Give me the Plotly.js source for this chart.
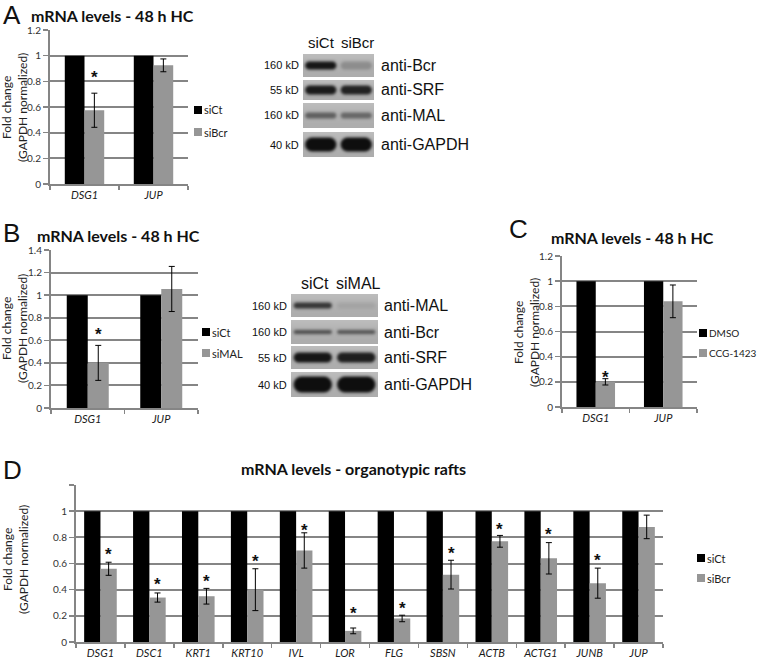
<!DOCTYPE html>
<html><head><meta charset="utf-8">
<script src="https://cdn.plot.ly/plotly-3.0.1.min.js"></script>
<style>html,body{margin:0;padding:0;background:#fff}#chart{width:760px;height:671px}</style>
</head><body><div id="chart"></div>
<script>
// ---------------- data ----------------
const catsAB = ['DSG1', 'JUP'];

const aSeries = ['siCt', 'siBcr'];
const aCt = [1, 1];
const aBcr = [0.575, 0.925];
const aBcrErr = [0.133, 0.05];
const aStar = [0.86, null];

const bSeries = ['siCt', 'siMAL'];
const bCt = [1, 1];
const bMAL = [0.40, 1.055];
const bMALErr = [0.155, 0.20];
const bStar = [0.69, null];

const cSeries = ['DMSO', 'CCG-1423'];
const cDMSO = [1, 1];
const cCCG = [0.20, 0.84];
const cCCGErr = [0.025, 0.13];
const cStar = [0.27, null];

const dCats = ['DSG1','DSC1','KRT1','KRT10','IVL','LOR','FLG','SBSN','ACTB','ACTG1','JUNB','JUP'];
const dSeries = ['siCt', 'siBcr'];
const dCt = [1,1,1,1,1,1,1,1,1,1,1,1];
const dBcr = [0.56,0.34,0.35,0.40,0.70,0.085,0.18,0.515,0.77,0.64,0.45,0.88];
const dBcrErr = [0.05,0.035,0.06,0.16,0.135,0.022,0.025,0.11,0.045,0.12,0.115,0.09];
const dStar = [0.70,0.47,0.495,0.645,0.88,0.25,0.29,0.71,0.89,0.855,0.65,null];

const titleHC = 'mRNA levels - 48 h HC';
const titleRafts = 'mRNA levels - organotypic rafts';
const yTitle = 'Fold change<br>(GAPDH normalized)';

// western blots (band intensity per lane, 0..1)
const blotALanes = ['siCt', 'siBcr'];
const blotARows = ['anti-Bcr', 'anti-SRF', 'anti-MAL', 'anti-GAPDH'];
const blotAkD = ['160 kD', '55 kD', '160 kD', '40 kD'];
const blotAInt = [[0.95, 0.22], [0.92, 0.88], [0.5, 0.45], [1, 1]];

const blotBLanes = ['siCt', 'siMAL'];
const blotBRows = ['anti-MAL', 'anti-Bcr', 'anti-SRF', 'anti-GAPDH'];
const blotBkD = ['160 kD', '160 kD', '55 kD', '40 kD'];
const blotBInt = [[0.75, 0.08], [0.62, 0.58], [0.95, 0.9], [1, 1]];

// ---------------- layout geometry ----------------
const W = 760, H = 671;
const fx = v => v / W, fy = v => 1 - v / H;
const GRID = '#858585', GRAY = '#969696';
const FONT = 'Lato, "Open Sans", sans-serif';
const ARIAL = '"Liberation Sans", Arial, sans-serif';

const panels = [
  {id:'', cats:catsAB, s1:aCt, s2:aBcr, err:aBcrErr, star:aStar, names:aSeries, gap:1.5,
   x0:50, x1:188, y0:30, y1:184, ymax:1.2, labels:['0','0.2','0.4','0.6','0.8','1','1.2'],
   title:titleHC, tx:113, ty:15, letter:'A', lx:1, ly:15, ytx:14, yty:108, legx:194, legy:[110,132], legf:11},
  {id:'2', cats:catsAB, s1:bCt, s2:bMAL, err:bMALErr, star:bStar, names:bSeries, gap:1.5,
   x0:51, x1:198, y0:250, y1:408, ymax:1.4, labels:['0','0.2','0.4','0.6','0.8','1','1.2','1.4'],
   title:titleHC, tx:119, ty:235, letter:'B', lx:1, ly:233, ytx:14, yty:329, legx:202, legy:[332,353], legf:11},
  {id:'3', cats:catsAB, s1:cDMSO, s2:cCCG, err:cCCGErr, star:cStar, names:cSeries, gap:1.5,
   x0:562, x1:697, y0:256, y1:407, ymax:1.2, labels:['0','0.2','0.4','0.6','0.8','1','1.2'],
   title:titleHC, tx:632, ty:237, letter:'C', lx:507, ly:229, ytx:526, yty:333, legx:699, legy:[333,353], legf:10},
  {id:'4', cats:dCats, s1:dCt, s2:dBcr, err:dBcrErr, star:dStar, names:dSeries, gap:1.0,
   x0:76, x1:663, y0:485, y1:642, ymax:1.2, labels:['0','0.2','0.4','0.6','0.8','1',''],
   title:titleRafts, tx:353, ty:468, letter:'D', lx:1, ly:470, ytx:15, yty:560, legx:697, legy:[558,578], legf:11}
];

const data = [];
const layout = {
  width: W, height: H, margin: {l:0, r:0, t:0, b:0},
  paper_bgcolor: '#fff', plot_bgcolor: 'rgba(0,0,0,0)',
  showlegend: false, barmode: 'overlay',
  annotations: [], shapes: [], images: []
};

panels.forEach(p => {
  const xa = 'x' + p.id, ya = 'y' + p.id;
  const w = 1 / (2 + p.gap);
  data.push({type:'bar', x:p.cats, y:p.s1, name:p.names[0], xaxis:xa, yaxis:ya,
    width:w, offset:-w, marker:{color:'#000', line:{width:0}}, hoverinfo:'skip'});
  data.push({type:'bar', x:p.cats, y:p.s2, name:p.names[1], xaxis:xa, yaxis:ya,
    width:w, offset:0, marker:{color:GRAY, line:{width:0}}, hoverinfo:'skip',
    error_y:{type:'data', array:p.err, visible:true, color:'#000', thickness:1, width:3}});

  const tickvals = p.labels.map((_, i) => +(i * 0.2).toFixed(1));
  layout['xaxis' + p.id] = {
    domain:[fx(p.x0), fx(p.x1)], anchor:ya, type:'category', range:[-0.5, p.cats.length - 0.5],
    showline:true, linecolor:GRID, linewidth:2, ticks:'outside', tickson:'boundaries',
    ticklen:4, tickcolor:GRID, tickwidth:1.5, showgrid:false, zeroline:false, fixedrange:true,
    tickfont:{family:FONT, size:11, color:'#1a1a1a', style:'italic'}
  };
  layout['yaxis' + p.id] = {
    domain:[fy(p.y1), fy(p.y0)], anchor:xa, range:[0, p.ymax + 0.0005],
    tickvals:tickvals, ticktext:p.labels,
    showline:true, linecolor:GRID, linewidth:2, ticks:'outside', ticklen:5, tickcolor:GRID, tickwidth:1.5,
    showgrid:true, gridcolor:GRID, gridwidth:2, zeroline:false, fixedrange:true,
    tickfont:{family:FONT, size:10, color:'#333'}
  };

  // asterisks over the grey bars
  p.star.forEach((s, i) => {
    if (s === null) return;
    layout.annotations.push({xref:xa, yref:ya, x:i + w / 2, y:s, text:'<b>*</b>', showarrow:false,
      yshift:-4, font:{family:ARIAL, size:17, color:'#111'}});
  });
  // titles, panel letters, y titles
  layout.annotations.push({xref:'paper', yref:'paper', x:fx(p.tx), y:fy(p.ty), text:'<b>' + p.title + '</b>',
    showarrow:false, xanchor:'center', yanchor:'middle', font:{family:FONT, size:16, color:'#111'}});
  layout.annotations.push({xref:'paper', yref:'paper', x:fx(p.lx), y:fy(p.ly), text:p.letter,
    showarrow:false, xanchor:'left', yanchor:'middle', font:{family:ARIAL, size:26, color:'#111'}});
  layout.annotations.push({xref:'paper', yref:'paper', x:fx(p.ytx), y:fy(p.yty), text:yTitle, textangle:-90,
    showarrow:false, xanchor:'center', yanchor:'middle', font:{family:FONT, size:12, color:'#222'}});
  // legend
  [['#000', p.names[0]], [GRAY, p.names[1]]].forEach((it, k) => {
    const yc = p.legy[k];
    layout.shapes.push({type:'rect', xref:'paper', yref:'paper', x0:fx(p.legx), x1:fx(p.legx + 8),
      y0:fy(yc + 4), y1:fy(yc - 4), fillcolor:it[0], line:{width:0}});
    layout.annotations.push({xref:'paper', yref:'paper', x:fx(p.legx + 9), y:fy(yc), text:it[1],
      showarrow:false, xanchor:'left', yanchor:'middle', borderpad:0,
      font:{family:FONT, size:p.legf, color:'#222'}});
  });
});

// ---------------- western blot strips ----------------
function strip(w, h, ints, thick) {
  const s = 4, c = document.createElement('canvas');
  c.width = Math.round(w * s); c.height = Math.round(h * s);
  const g = c.getContext('2d');
  g.fillStyle = '#b6b6b6'; g.fillRect(0, 0, c.width, c.height);
  const gr = g.createLinearGradient(0, 0, 0, c.height);
  gr.addColorStop(0, 'rgba(255,255,255,0.10)'); gr.addColorStop(1, 'rgba(0,0,0,0.05)');
  g.fillStyle = gr; g.fillRect(0, 0, c.width, c.height);
  g.filter = 'blur(' + (1.5 * s) + 'px)';
  ints.forEach((v, i) => {
    const lw = w / 2, cx = (i + 0.5) * lw, bw = lw * 0.88;
    g.fillStyle = 'rgba(14,14,14,' + v + ')';
    g.beginPath();
    g.roundRect((cx - bw / 2) * s, (h / 2 - thick / 2) * s, bw * s, thick * s, thick / 2 * s);
    g.fill();
  });
  return c.toDataURL('image/png');
}

function addBlot(b, lanes, rows, kd, ints) {
  rows.forEach((name, r) => {
    const [r0, r1] = b.rows[r];
    layout.images.push({source:strip(b.x1 - b.x0, r1 - r0, ints[r], b.thick[r]), xref:'paper', yref:'paper',
      x:fx(b.x0), y:fy(r0), sizex:(b.x1 - b.x0) / W, sizey:(r1 - r0) / H,
      sizing:'stretch', xanchor:'left', yanchor:'top', layer:'above'});
    const yc = (r0 + r1) / 2;
    layout.annotations.push({xref:'paper', yref:'paper', x:fx(b.kdRight), y:fy(yc), text:kd[r],
      showarrow:false, xanchor:'right', yanchor:'middle', font:{family:ARIAL, size:11, color:'#111'}});
    layout.annotations.push({xref:'paper', yref:'paper', x:fx(b.antiLeft), y:fy(yc), text:name,
      showarrow:false, xanchor:'left', yanchor:'middle', font:{family:ARIAL, size:16, color:'#111'}});
  });
  lanes.forEach((l, i) => {
    layout.annotations.push({xref:'paper', yref:'paper', x:fx(b.laneX[i]), y:fy(b.labelY), text:l,
      showarrow:false, xanchor:'center', yanchor:'middle', font:{family:ARIAL, size:b.laneF, color:'#111'}});
  });
}

addBlot({x0:303, x1:374, rows:[[54,77],[80,100],[103,128],[132,157]], thick:[8,9,6,14],
  labelY:43, laneX:[321,357], laneF:15, kdRight:301, antiLeft:379}, blotALanes, blotARows, blotAkD, blotAInt);
addBlot({x0:291, x1:378, rows:[[294,317],[320,344],[346,369],[372,397]], thick:[6,4,10,16],
  labelY:283, laneX:[315,358], laneF:16, kdRight:289, antiLeft:382}, blotBLanes, blotBRows, blotBkD, blotBInt);

Plotly.newPlot('chart', data, layout, {displayModeBar:false, staticPlot:true});
</script>
</body></html>
